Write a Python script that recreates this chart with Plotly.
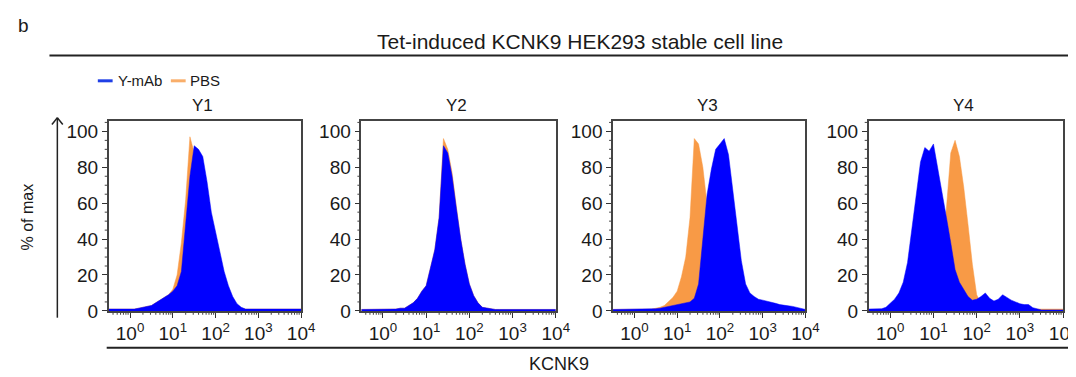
import plotly.graph_objects as go
import math

# ---------------- data (log10 of KCNK9 intensity, % of max) ----------------
LOG_BINS = [-0.5, -0.4, -0.3, -0.2, -0.1, 0.0, 0.1, 0.2, 0.3, 0.4,
            0.5, 0.6, 0.7, 0.8, 0.9, 1.0, 1.1, 1.2, 1.3, 1.4,
            1.5, 1.6, 1.7, 1.8, 1.9, 2.0, 2.1, 2.2, 2.3, 2.4,
            2.5, 2.6, 2.7, 2.8, 2.9, 3.0, 3.1, 3.2, 3.3, 3.4,
            3.5, 3.6, 3.7, 3.8, 3.9, 4.0]

PANELS = ["Y1", "Y2", "Y3", "Y4"]
SERIES_NAMES = ["Y-mAb", "PBS"]

Y1_MAB = [1, 1, 1, 1, 1, 1, 1, 1.5, 2, 2.5,
          3, 4.5, 6, 7.5, 9, 11, 14, 22, 50, 75,
          92, 90, 86, 72, 55, 43, 33, 22, 14, 8,
          4, 2, 1, 1, 1, 1, 1, 1, 1, 1,
          1, 1, 1, 1, 1, 1]
Y1_PBS = [1, 1, 1, 1, 1, 1, 1, 1.5, 2, 2.5,
          3, 4.5, 6, 7.5, 9, 12, 20, 38, 62, 97,
          88, 80, 70, 60, 48, 38, 28, 18, 11, 6,
          3, 1.5, 1, 1, 1, 1, 1, 1, 1, 1,
          1, 1, 1, 1, 1, 1]

Y2_MAB = [0.8, 0.8, 0.8, 0.8, 0.8, 0.8, 0.8, 1, 1, 1.5,
          1.5, 3, 4.5, 7, 11, 14, 24, 34, 52, 92,
          88, 75, 57, 40, 26, 15, 8.5, 4.5, 2, 1.5,
          1, 0.8, 0.8, 0.8, 0.8, 0.8, 0.8, 0.8, 0.8, 0.8,
          0.8, 0.8, 0.8, 0.8, 0.8, 0.8]
Y2_PBS = [0.8, 0.8, 0.8, 0.8, 0.8, 0.8, 0.8, 1, 1, 1.5,
          1.5, 3, 4.5, 7, 11, 14, 24, 34, 52, 96,
          90, 77, 58, 40, 26, 15, 8.5, 4.5, 2, 1.5,
          1, 0.8, 0.8, 0.8, 0.8, 0.8, 0.8, 0.8, 0.8, 0.8,
          0.8, 0.8, 0.8, 0.8, 0.8, 0.8]

Y3_MAB = [0.8, 0.8, 0.8, 0.8, 0.8, 0.8, 1, 1, 1, 1,
          1.2, 1.5, 2, 2.5, 3, 3.5, 4, 4.5, 5, 7,
          15, 40, 65, 79, 90, 93, 96, 87, 68, 47,
          28, 15, 10, 8, 6.5, 6, 5.5, 4.6, 4.2, 3.5,
          3, 2.8, 2.5, 1.8, 1.2, 0.8]
Y3_PBS = [0.8, 0.8, 0.8, 0.8, 0.8, 0.8, 0.8, 0.8, 0.8, 1,
          1.5, 2, 3, 5, 7.5, 11, 19, 30, 52, 96,
          93, 80, 58, 38, 22, 12, 6, 3, 1.5, 0.8,
          0.8, 0.8, 0.8, 0.8, 0.8, 0.8, 0.8, 0.8, 0.8, 0.8,
          0.8, 0.8, 0.8, 0.8, 0.8, 0.8]

Y4_MAB = [1, 1, 1, 1.2, 2, 4, 6.5, 10, 16, 27,
          45, 66, 83, 91, 89, 93, 80, 65, 52, 38,
          23, 16, 12, 8, 6, 6.5, 8, 10, 7, 5.5,
          6.5, 9, 7.5, 6, 5, 4, 3.5, 3.5, 1.8, 1,
          0.5, 0.5, 0.5, 0.5, 0.5, 0.5]
Y4_PBS = [0.8, 0.8, 0.8, 0.8, 0.8, 0.8, 0.8, 0.8, 0.8, 0.8,
          1, 2, 3, 5, 8, 14, 22, 38, 57, 88,
          95, 86, 69, 48, 26, 9, 4, 2, 1, 1,
          1, 1, 1, 1, 1, 1, 1, 1, 1, 1,
          1, 1, 1, 1, 1, 1]

MAB_VALUES = [Y1_MAB, Y2_MAB, Y3_MAB, Y4_MAB]
PBS_VALUES = [Y1_PBS, Y2_PBS, Y3_PBS, Y4_PBS]

X_TICK_VALS = [0, 1, 2, 3, 4]
X_TICK_EXP = ["0", "1", "2", "3", "4"]
Y_TICK_VALS = [0, 20, 40, 60, 80, 100]

# ---------------- layout helpers ----------------
W, H = 1076, 377
FONT = "Liberation Sans, Arial, sans-serif"
BLUE = "#0000FF"
ORANGE = "#F89A46"
BLUE_LEG = "#1F3FE6"
ORANGE_LEG = "#F9AE6A"
TXT = "#1a1a1a"
TICK_SIZE = 19

X_TICK_TEXT = ["10<sup style='font-size:16px'>%s</sup>" % e for e in X_TICK_EXP]


def px(x):
    return x / W


def py(y):
    return 1 - y / H


PANEL_X = [(102, 297), (358, 555), (613, 808), (872, 1069)]
PANEL_Y = (116, 312)
X_RANGE = [-0.5, 4.0]
Y_RANGE = [0, 106]

# minor tick positions (log decades on x, every 5 % on y)
x_minor = []
for n in range(-1, 4):
    for k in range(2, 10):
        v = n + math.log10(k)
        if X_RANGE[0] < v < X_RANGE[1]:
            x_minor.append(v)
y_minor = [v for v in range(5, 106, 5) if v % 20 != 0]

fig = go.Figure()
shapes = []

for i, name in enumerate(PANELS):
    ax = "" if i == 0 else str(i + 1)
    fig.add_trace(go.Scatter(
        x=LOG_BINS, y=PBS_VALUES[i], mode="lines", fill="tozeroy",
        fillcolor=ORANGE, line=dict(color=ORANGE, width=0.5),
        name=SERIES_NAMES[1], showlegend=False,
        xaxis="x" + ax, yaxis="y" + ax))
    fig.add_trace(go.Scatter(
        x=LOG_BINS, y=MAB_VALUES[i], mode="lines", fill="tozeroy",
        fillcolor=BLUE, line=dict(color=BLUE, width=0.5),
        name=SERIES_NAMES[0], showlegend=False,
        xaxis="x" + ax, yaxis="y" + ax))

    x0, x1 = PANEL_X[i]
    fig.update_layout(**{
        "xaxis" + ax: dict(
            domain=[px(x0), px(x1)], range=X_RANGE, anchor="y" + ax,
            tickmode="array", tickvals=X_TICK_VALS, ticktext=X_TICK_TEXT,
            ticks="outside", ticklen=5, tickwidth=1, tickcolor="#333",
            showline=True, linecolor="#444", linewidth=1.5, mirror=True,
            showgrid=False, zeroline=False,
            tickfont=dict(family=FONT, size=TICK_SIZE, color=TXT)),
        "yaxis" + ax: dict(
            domain=[py(PANEL_Y[1]), py(PANEL_Y[0])], range=Y_RANGE, anchor="x" + ax,
            tickmode="array", tickvals=Y_TICK_VALS,
            ticks="outside", ticklen=5, tickwidth=1, tickcolor="#333",
            showline=True, linecolor="#444", linewidth=1.5, mirror=True,
            showgrid=False, zeroline=False,
            tickfont=dict(family=FONT, size=TICK_SIZE, color=TXT)),
    })

    # minor ticks drawn as short line shapes tied to each axis
    for v in x_minor:
        shapes.append(dict(type="line", xref="x" + ax, yref="paper",
                           x0=v, x1=v, y0=py(PANEL_Y[1] + 0.5), y1=py(PANEL_Y[1] + 4),
                           line=dict(color="#444", width=1)))
    for v in y_minor:
        shapes.append(dict(type="line", xref="paper", yref="y" + ax,
                           x0=px(x0 - 0.5), x1=px(x0 - 4), y0=v, y1=v,
                           line=dict(color="#444", width=1)))

annotations = [
    dict(text="b", x=px(8), y=py(18), xanchor="left", yanchor="middle",
         font=dict(size=19, color=TXT)),
    dict(text="Tet-induced KCNK9 HEK293 stable cell line", x=px(580), y=py(35),
         xanchor="center", yanchor="middle", font=dict(size=21, color=TXT)),
    dict(text="Y-mAb", x=px(109), y=py(75), xanchor="left", yanchor="middle",
         font=dict(size=15, color=TXT)),
    dict(text="PBS", x=px(182), y=py(75), xanchor="left", yanchor="middle",
         font=dict(size=15, color=TXT)),
    dict(text="% of max", x=px(20), y=py(215), xanchor="center", yanchor="middle",
         textangle=-90, font=dict(size=16, color=TXT)),
    dict(text="KCNK9", x=px(558), y=py(367), xanchor="center", yanchor="middle",
         font=dict(size=18, color=TXT)),
]
for i, name in enumerate(PANELS):
    x0, x1 = PANEL_X[i]
    annotations.append(dict(text=name, x=px((x0 + x1) / 2 - 2), y=py(100),
                            xanchor="center", yanchor="middle",
                            font=dict(size=17, color=TXT)))
for a in annotations:
    a.update(xref="paper", yref="paper", showarrow=False)
    a["font"]["family"] = FONT

deco = [
    dict(type="line", x0=px(42), x1=px(1076), y0=py(49), y1=py(49),
         line=dict(color="#222", width=2)),
    dict(type="line", x0=px(100), x1=px(1076), y0=py(350), y1=py(350),
         line=dict(color="#222", width=2)),
    dict(type="line", x0=px(91), x1=px(106), y0=py(75), y1=py(75),
         line=dict(color=BLUE_LEG, width=3)),
    dict(type="line", x0=px(165), x1=px(180), y0=py(75), y1=py(75),
         line=dict(color=ORANGE_LEG, width=3)),
    dict(type="line", x0=px(50), x1=px(50), y0=py(319), y1=py(113),
         line=dict(color="#222", width=1.5)),
    dict(type="line", x0=px(44.5), x1=px(50), y0=py(120), y1=py(113),
         line=dict(color="#222", width=1.5)),
    dict(type="line", x0=px(55.5), x1=px(50), y0=py(120), y1=py(113),
         line=dict(color="#222", width=1.5)),
]
for s in deco:
    s.update(xref="paper", yref="paper")
shapes.extend(deco)

fig.update_layout(
    width=W, height=H,
    margin=dict(l=0, r=0, t=0, b=0),
    paper_bgcolor="white", plot_bgcolor="white",
    font=dict(family=FONT, color=TXT),
    showlegend=False,
    annotations=annotations,
    shapes=shapes,
)

fig.write_html("out.html")
